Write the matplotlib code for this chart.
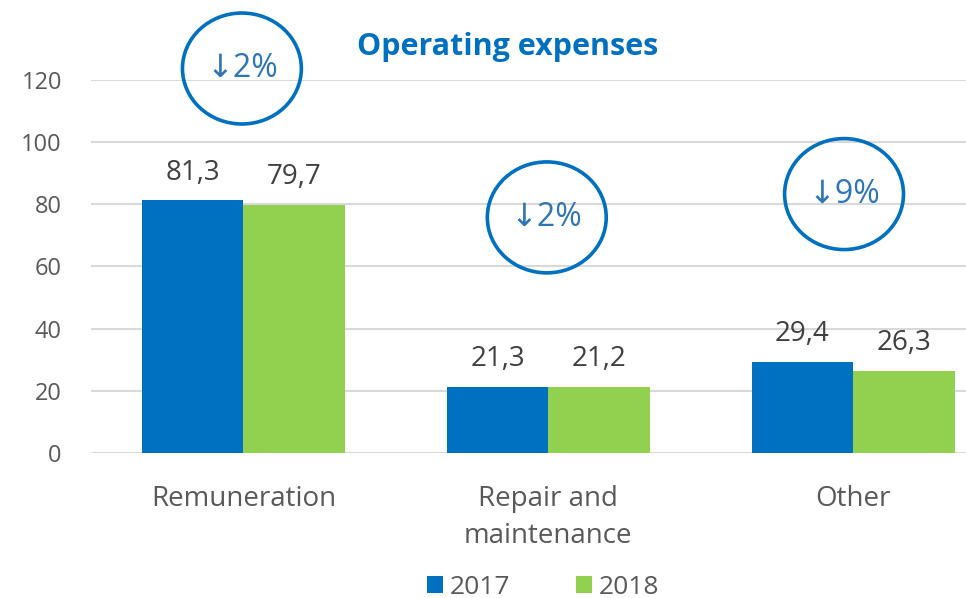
import matplotlib.pyplot as plt
from matplotlib.patches import Ellipse, Patch

# data
categories = ['Remuneration', 'Repair and\nmaintenance', 'Other']
years = ['2017', '2018']
values_2017 = [81.3, 21.3, 29.4]
values_2018 = [79.7, 21.2, 26.3]
change_labels = ['\u21932%', '\u21932%', '\u21939%']
change_y = [123.7, 75.8, 83.3]      # circle centre heights (data units)
change_dx = [-0.005, -0.005, -0.03]

blue = '#0070C0'
green = '#92D050'
grey = '#595959'
font = ['Open Sans', 'DejaVu Sans']

plt.rcParams['font.family'] = font

fig = plt.figure(figsize=(9.66, 5.98), dpi=100)
ax = fig.add_axes([0.0942, 0.2425, 0.9058, 0.6237])

w = 0.333
x = list(range(len(categories)))
b1 = ax.bar([i - w / 2 for i in x], values_2017, width=w, color=blue, zorder=3)
b2 = ax.bar([i + w / 2 for i in x], values_2018, width=w, color=green, zorder=3)

for bars, vals in ((b1, values_2017), (b2, values_2018)):
    for rect, v in zip(bars, vals):
        ax.annotate(f'{v:.1f}'.replace('.', ','),
                    (rect.get_x() + rect.get_width() / 2, v),
                    xytext=(0, 20), textcoords='offset points',
                    ha='center', va='center', fontsize=20, color='#404040')

# change circles
for i, lab in enumerate(change_labels):
    cx = x[i] + change_dx[i]
    e = Ellipse((cx, change_y[i]), width=0.39, height=35.7, fill=False,
                edgecolor=blue, linewidth=2.6, clip_on=False, zorder=4)
    ax.add_patch(e)
    ax.text(cx, change_y[i], lab, ha='center', va='center', fontsize=23,
            color='#2E75B6', zorder=5)

ax.set_xlim(-0.5, 2.37)
ax.set_ylim(0, 120)
ax.set_yticks(range(0, 121, 20))
ax.set_xticks(x)
ax.set_xticklabels(categories, linespacing=1.45)
ax.yaxis.grid(True, color='#D9D9D9', linewidth=1.5, zorder=0)
ax.set_axisbelow(True)
for s in ax.spines.values():
    s.set_visible(False)
ax.tick_params(axis='y', length=0, pad=21, labelsize=17, labelcolor=grey)
ax.tick_params(axis='x', length=0, pad=23, labelsize=20, labelcolor=grey)

fig.text(0.525, 0.922, 'Operating expenses', ha='center', va='center',
         fontsize=22, fontweight='bold', color=blue)

handles = [Patch(facecolor=blue), Patch(facecolor=green)]
fig.legend(handles, years, loc='center', bbox_to_anchor=(0.562, 0.018),
           ncol=2, frameon=False, fontsize=19, labelcolor=grey,
           handlelength=0.6, handleheight=0.6, handletextpad=0.25,
           columnspacing=2.5)

fig.savefig('out.png', dpi=100)
